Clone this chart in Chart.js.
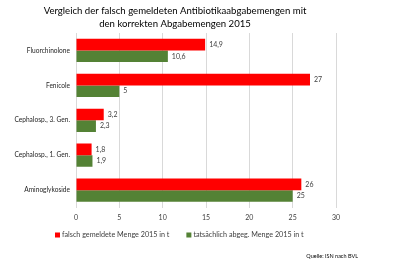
<!DOCTYPE html>
<html>
<head>
<meta charset="utf-8">
<script src="https://cdn.jsdelivr.net/npm/chart.js@4.4.0/dist/chart.umd.min.js"></script>
<style>
  html, body { margin: 0; padding: 0; background: #fff; }
  #wrap { position: relative; width: 400px; height: 264px; }
</style>
</head>
<body>
<div id="wrap"><canvas id="c" width="400" height="264"></canvas></div>
<script>
// Werte
var CATEGORIES = ['Fluorchinolone', 'Fenicole', 'Cephalosp., 3. Gen.', 'Cephalosp., 1. Gen.', 'Aminoglykoside'];
var FALSCH = [14.9, 27, 3.2, 1.8, 26];
var KORREKT = [10.6, 5, 2.3, 1.9, 25];
var SERIES_NAMES = ['falsch gemeldete Menge 2015 in t', 'tatsächlich abgeg. Menge 2015 in t'];
var X_TICKS = [0, 5, 10, 15, 20, 25, 30];
var TITLE_LINES = ['Vergleich der falsch gemeldeten Antibiotikaabgabemengen mit', 'den korrekten Abgabemengen 2015'];
var SOURCE = 'Quelle: ISN nach BVL';

var FONT = 'Lato, "Open Sans", sans-serif';

function fmt(v) { return String(v).replace('.', ','); }

var extras = {
  id: 'extras',
  afterDatasetsDraw: function (chart) {
    var ctx = chart.ctx;
    ctx.save();
    ctx.font = '7px ' + FONT;
    ctx.fillStyle = '#404040';
    ctx.textBaseline = 'middle';
    ctx.textAlign = 'left';
    chart.data.datasets.forEach(function (ds, i) {
      chart.getDatasetMeta(i).data.forEach(function (bar, j) {
        ctx.fillText(fmt(ds.data[j]), bar.x + 4, bar.y);
      });
    });
    ctx.restore();
  },
  afterDraw: function (chart) {
    var ctx = chart.ctx;
    ctx.save();
    ctx.fillStyle = '#000';
    ctx.textAlign = 'center';
    ctx.textBaseline = 'middle';
    ctx.font = '9.6px ' + FONT;
    ctx.fillText(TITLE_LINES[0], 175, 11);
    ctx.fillText(TITLE_LINES[1], 175, 24);

    // Legende unten, wie im Original etwas links der Mitte
    ctx.font = '7.2px ' + FONT;
    ctx.textAlign = 'left';
    var x = 55, y = 235;
    chart.data.datasets.forEach(function (ds) {
      ctx.fillStyle = ds.backgroundColor;
      ctx.fillRect(x, y - 2.5, 5, 5);
      ctx.fillStyle = '#404040';
      ctx.fillText(ds.label, x + 7, y);
      x += 7 + ctx.measureText(ds.label).width + 17;
    });

    ctx.fillStyle = '#000';
    ctx.font = '5.5px ' + FONT;
    ctx.textAlign = 'right';
    ctx.fillText(SOURCE, 358, 256);
    ctx.restore();
  }
};

new Chart(document.getElementById('c').getContext('2d'), {
  type: 'bar',
  data: {
    labels: CATEGORIES,
    datasets: [
      { label: SERIES_NAMES[0], data: FALSCH, backgroundColor: '#ff0000' },
      { label: SERIES_NAMES[1], data: KORREKT, backgroundColor: '#548235' }
    ]
  },
  options: {
    indexAxis: 'y',
    responsive: false,
    animation: false,
    devicePixelRatio: 1,
    layout: { padding: { left: 10, right: 64, top: 33, bottom: 36 } },
    datasets: { bar: { categoryPercentage: 0.667, barPercentage: 1 } },
    plugins: {
      legend: { display: false },
      tooltip: { enabled: false }
    },
    scales: {
      x: {
        min: 0, max: 30,
        afterBuildTicks: function (s) { s.ticks = X_TICKS.map(function (v) { return { value: v }; }); },
        grid: { color: '#d9d9d9', drawTicks: false },
        border: { display: false },
        ticks: { color: '#404040', padding: 6, font: { family: FONT, size: 7 } }
      },
      y: {
        afterFit: function (s) { s.width = 66; },
        grid: { display: false, drawTicks: false },
        border: { display: false },
        ticks: { color: '#262626', padding: 6, font: { family: FONT, size: 6.6 } }
      }
    }
  },
  plugins: [extras]
});
</script>
</body>
</html>
